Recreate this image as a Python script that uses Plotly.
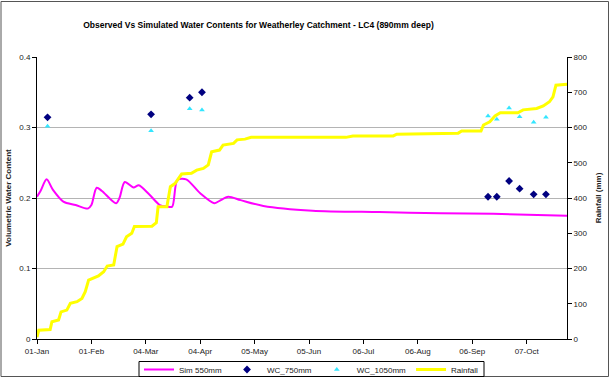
import pandas as pd
import plotly.graph_objects as go

BASE = pd.Timestamp("2003-01-01")

# Simulated water content at 550 mm (day offset, value)
sim_days = [0, 2, 5.5, 9, 15, 22, 29, 31, 34, 37, 45, 47, 50, 55, 58, 64, 70, 74, 77,
            80, 85, 93, 101, 104, 109, 116, 129, 157, 195, 230, 260, 302]
sim_vals = [0.2018, 0.21, 0.2265, 0.212, 0.195, 0.19, 0.185, 0.19, 0.2146, 0.21, 0.1925,
            0.2, 0.2227, 0.215, 0.218, 0.205, 0.19, 0.188, 0.1877, 0.2255, 0.2265, 0.2066,
            0.1925, 0.196, 0.2018, 0.197, 0.1887, 0.182, 0.18, 0.1785, 0.1775, 0.175]

# Observed water contents
obs_days = [6, 65, 87, 94, 257, 262, 269, 275, 283, 290]
wc_750 = [0.3145, 0.3187, 0.3423, 0.35, 0.2018, 0.2018, 0.2241, 0.2132, 0.2052, 0.2052]
wc_1050 = [0.3017, 0.2955, 0.3267, 0.3248, 0.3163, 0.3116, 0.3277, 0.3154, 0.3073, 0.3145]

# Cumulative rainfall (mm)
rain_days = [0, 1, 7.5, 8.5, 12.3, 13.7, 17, 19, 22.8, 25.6, 27.5, 29.4, 35, 38, 40, 43.7,
             45.6, 49, 51, 54, 55.5, 65.5, 68, 69, 74, 76, 78.6, 82.4, 88, 91, 94.8, 97.6,
             99.5, 104, 106, 112, 114, 118.5, 122, 176, 180, 203, 205, 240, 242, 253, 254.4,
             258, 261, 264, 274, 277, 284.7, 288.5, 292, 294, 295.7, 302]
rain_mm = [5, 25, 27, 49, 54, 77, 82, 101, 106, 115, 134, 167, 179, 191, 207, 210,
           262, 269, 290, 300, 319, 320, 330, 375, 375, 432, 441, 468, 470, 479, 484, 494,
           531, 536, 550, 555, 565, 567, 572, 572, 576, 576, 581, 584, 590, 590, 607,
           616, 633, 642, 642, 650, 654, 661, 673, 687, 720, 723]

tick_days = [0, 31, 62, 93, 124, 155, 186, 217, 248, 279]
tick_labels = ["01-Jan", "01-Feb", "04-Mar", "04-Apr", "05-May", "05-Jun", "06-Jul",
               "06-Aug", "06-Sep", "07-Oct"]
x_end_day = 302


def to_dates(days):
    return [BASE + pd.Timedelta(days=d) for d in days]


FONT = "Liberation Sans, Arial, sans-serif"

fig = go.Figure()
fig.add_trace(go.Scatter(x=to_dates(sim_days), y=sim_vals, mode="lines", name="Sim 550mm",
                         line=dict(color="#FF00FF", width=2, shape="spline", smoothing=0.8)))
fig.add_trace(go.Scatter(x=to_dates(obs_days), y=wc_750, mode="markers", name="WC_750mm",
                         marker=dict(symbol="diamond", color="#000080", size=6)))
fig.add_trace(go.Scatter(x=to_dates(obs_days), y=wc_1050, mode="markers", name="WC_1050mm",
                         marker=dict(symbol="triangle-up", color="#33E6FF", size=5)))
fig.add_trace(go.Scatter(x=to_dates(rain_days), y=rain_mm, mode="lines", name="Rainfall",
                         yaxis="y2", line=dict(color="#FFFF00", width=3)))

L, R, T, B = 37, 43, 57, 39
W, H = 610, 378
pw, ph = W - L - R, H - T - B


def px_x(x):
    return (x - L) / pw


def px_y(y):
    return (H - B - y) / ph


fig.update_layout(
    width=W, height=H,
    margin=dict(l=L, r=R, t=T, b=B, autoexpand=False),
    paper_bgcolor="white", plot_bgcolor="white",
    font=dict(family=FONT, size=8, color="#222"),
    title=dict(text="<b>Observed Vs Simulated Water Contents for Weatherley Catchment - LC4 (890mm deep)</b>",
               x=258.5 / W, xanchor="center", y=1 - 25 / H, yanchor="middle",
               font=dict(size=8.5, color="#000")),
    showlegend=True,
    legend=dict(orientation="h", x=px_x(311), xanchor="center",
                y=px_y(355), yanchor="top", bgcolor="rgba(0,0,0,0)",
                borderwidth=0, font=dict(size=8),
                itemwidth=30, tracegroupgap=0),
    xaxis=dict(type="date", range=[BASE, BASE + pd.Timedelta(days=x_end_day)],
               tickvals=to_dates(tick_days), ticktext=tick_labels,
               showline=True, linecolor="#000", linewidth=1, mirror=False,
               ticks="outside", ticklen=4, tickcolor="#000",
               showgrid=False, zeroline=False, tickfont=dict(size=8)),
    yaxis=dict(range=[0, 0.4], tickvals=[0, 0.1, 0.2, 0.3, 0.4],
               ticktext=["0", "0.1", "0.2", "0.3", "0.4"],
               showline=True, linecolor="#000", linewidth=1,
               ticks="outside", ticklen=4, tickcolor="#000",
               showgrid=True, gridcolor="#B4B4B4", gridwidth=1, zeroline=False,
               title=dict(text="<b>Volumetric Water Content</b>", font=dict(size=8), standoff=6),
               tickfont=dict(size=8)),
    yaxis2=dict(range=[0, 800], tickvals=[0, 100, 200, 300, 400, 500, 600, 700, 800],
                overlaying="y", side="right",
                showline=True, linecolor="#000", linewidth=1,
                ticks="outside", ticklen=4, tickcolor="#000",
                showgrid=False, zeroline=False,
                title=dict(text="<b>Rainfall (mm)</b>", font=dict(size=8), standoff=8),
                tickfont=dict(size=8)),
    shapes=[
        # outer chart border
        dict(type="rect", xref="paper", yref="paper",
             x0=px_x(1), x1=px_x(W - 1.5), y0=px_y(H - 1.5), y1=px_y(1.5),
             line=dict(color="#555", width=1), fillcolor="rgba(0,0,0,0)"),
        # legend frame
        dict(type="rect", xref="paper", yref="paper",
             x0=px_x(139), x1=px_x(484), y0=px_y(376.5), y1=px_y(361.5),
             line=dict(color="#000", width=1), fillcolor="rgba(0,0,0,0)"),
    ],
)

fig.write_html("out.html")
